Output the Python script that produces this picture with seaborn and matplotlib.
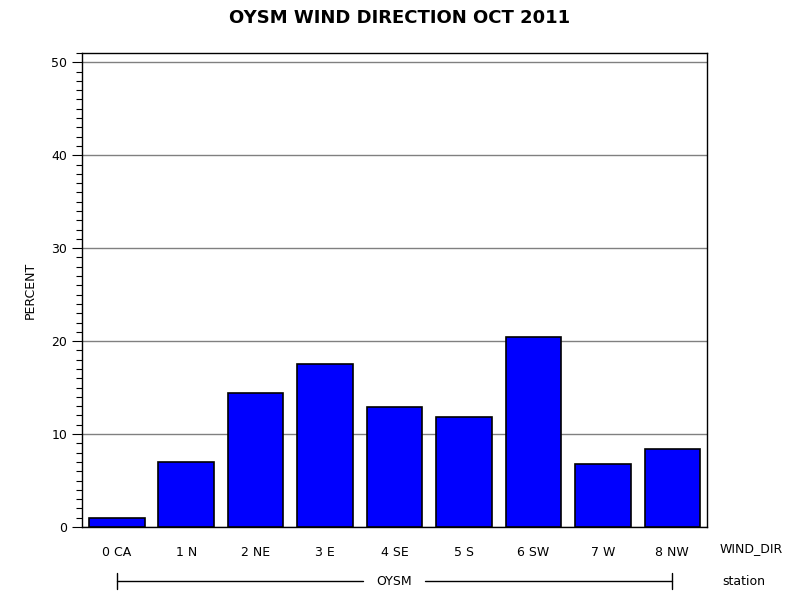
import matplotlib
matplotlib.use("Agg")
import matplotlib.pyplot as plt
import matplotlib.transforms as mtransforms
from matplotlib.ticker import MultipleLocator
import numpy as np
import pandas as pd
import seaborn as sns

# datos
direcciones = ['0 CA', '1 N', '2 NE', '3 E', '4 SE', '5 S', '6 SW', '7 W', '8 NW']
porcentaje = [1.0, 7.0, 14.4, 17.5, 12.9, 11.8, 20.4, 6.8, 8.4]
estacion = 'OYSM'

df = pd.DataFrame({'WIND_DIR': direcciones, 'PERCENT': porcentaje})

sns.set_style('white')
plt.rcParams['font.family'] = ['DejaVu Sans']
plt.rcParams['text.color'] = 'black'
plt.rcParams['axes.labelcolor'] = 'black'
plt.rcParams['xtick.color'] = 'black'
plt.rcParams['ytick.color'] = 'black'

fig = plt.figure(figsize=(8, 6), dpi=100)
ax = fig.add_axes([82 / 800, 1 - 527 / 600, 625 / 800, 474 / 600])

sns.barplot(data=df, x='WIND_DIR', y='PERCENT', color='#0000ff', saturation=1,
            edgecolor='black', linewidth=1.2, width=0.8, ax=ax, zorder=3)

ax.set_xlim(-0.5, len(direcciones) - 0.5)
ax.set_ylim(0, 51)
ax.yaxis.set_major_locator(MultipleLocator(10))
ax.yaxis.set_minor_locator(MultipleLocator(1))
ax.yaxis.grid(True, which='major', color='#808080', linewidth=1, zorder=0)
ax.set_axisbelow(True)

for s in ax.spines.values():
    s.set_color('black')
    s.set_linewidth(1)
    s.set_visible(True)

ax.tick_params(axis='y', which='major', length=7, width=0.8, colors='black',
               labelsize=9, left=True)
ax.tick_params(axis='y', which='minor', length=4, width=0.8, color='black', left=True)
ax.tick_params(axis='x', length=0, labelsize=9, pad=14, colors='black')

ax.set_xlabel('')
ax.set_ylabel('PERCENT', fontsize=9, color='black')
ax.yaxis.set_label_coords(-0.072, 0.5)

fig.suptitle('OYSM WIND DIRECTION OCT 2011', fontsize=13, fontweight='bold',
             y=0.985, color='black')

# etiquetas de la derecha
tr = mtransforms.blended_transform_factory(ax.transData, ax.transAxes)
ax.text(1.02, -0.046, 'WIND_DIR', transform=ax.transAxes, fontsize=9, va='center', ha='left')
ax.text(1.024, -0.114, 'station', transform=ax.transAxes, fontsize=9, va='center', ha='left')

# corchete de la estación
yb = -0.114
ax.plot([0, 3.55], [yb, yb], color='black', lw=1, transform=tr, clip_on=False)
ax.plot([4.44, 8], [yb, yb], color='black', lw=1, transform=tr, clip_on=False)
for xe in [0, 8]:
    ax.plot([xe, xe], [yb - 0.016, yb + 0.016], color='black', lw=1, transform=tr, clip_on=False)
ax.text(4.0, yb, estacion, transform=tr, fontsize=9, ha='center', va='center')

fig.savefig('out.png', dpi=100)
